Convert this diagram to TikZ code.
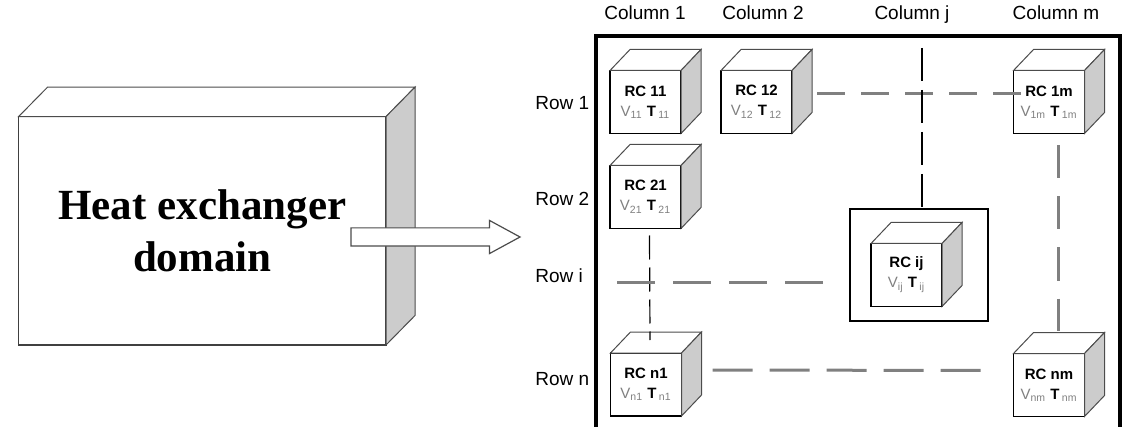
\documentclass[tikz,border=0pt]{standalone}
\usepackage{fontspec}
\setmainfont{Liberation Sans}
\newfontfamily\timesfont{Liberation Serif}
\usetikzlibrary{calc,shapes.arrows}
\tikzset{
  cubefront/.style={draw=black, line width=0.9pt, fill=white, minimum width=35.5pt, minimum height=31.5pt,
    inner sep=0pt, outer sep=0pt, align=center, font=\fontsize{7.5}{10}\selectfont},
  cubeedge/.style={draw=black!70, line width=0.5pt},
  gridlabel/.style={font=\fontsize{9.5}{11}\selectfont, inner sep=0pt},
  graydash/.style={draw=black!50, line width=1.5pt},
  blackdash/.style={draw=black, line width=1pt}
}
\newcommand{\cubesides}[3]{%
  \draw[cubeedge, fill=white] (#1.north west) -- ++(#2,#3) -- ($(#1.north east)+(#2,#3)$) -- (#1.north east) -- cycle;
  \draw[cubeedge, fill=gray!40] (#1.north east) -- ++(#2,#3) -- ($(#1.south east)+(#2,#3)$) -- (#1.south east) -- cycle;}
\newcommand{\vt}[1]{{\color{gray}V\textsubscript{#1}}\ \textbf{T}\,{\color{gray}\textsubscript{#1}}}
\begin{document}
\begin{tikzpicture}[x=0.5pt,y=-0.5pt]
  \useasboundingbox (0,0) rectangle (1134,427);
  \node[cubefront, draw=black!75, line width=0.75pt, minimum width=183.7pt, minimum height=114.2pt,
    font=\timesfont\bfseries\fontsize{21.5}{26}\selectfont] (domain) at (202.3,230.8) {Heat exchanger\\domain};
  \cubesides{domain}{29}{-29.5}
  \node[single arrow, draw=black!70, fill=white, line width=0.6pt, minimum height=84.5pt, inner xsep=0pt,
    inner ysep=4.25pt, outer sep=0pt, single arrow head extend=3.75pt, single arrow tip angle=57,
    anchor=tail] (flow) at (351,237) {};
  \draw[line width=2pt] (596,427) -- (596,36) -- (1120,36) -- (1120,427);
  \node[gridlabel, anchor=base] (col1) at (645,20) {Column 1};
  \node[gridlabel, anchor=base] (col2) at (763,20) {Column 2};
  \node[gridlabel, anchor=base] (colj) at (912,20) {Column j};
  \node[gridlabel, anchor=base] (colm) at (1056,20) {Column m};
  \node[gridlabel, anchor=west] (row1) at (535,103) {Row 1};
  \node[gridlabel, anchor=west] (row2) at (535,199) {Row 2};
  \node[gridlabel, anchor=west] (rowi) at (535,276) {Row i};
  \node[gridlabel, anchor=west] (rown) at (535,379) {Row n};
  \node[draw, line width=0.9pt, minimum width=69pt, minimum height=56pt, inner sep=0pt, outer sep=0pt] (frameij) at (919,265) {};
  \node[cubefront] (rc11) at (645.5,102) {\textbf{RC 11}\\\vt{11}};
  \node[cubefront] (rc12) at (756.5,102) {\textbf{RC 12}\\\vt{12}};
  \node[cubefront] (rc1m) at (1049,102) {\textbf{RC 1m}\\\vt{1m}};
  \node[cubefront] (rc21) at (645.5,197) {\textbf{RC 21}\\\vt{21}};
  \node[cubefront] (rcij) at (906.5,275) {\textbf{RC ij}\\\vt{ij}};
  \node[cubefront] (rcn1) at (646,384.5) {\textbf{RC n1}\\\vt{n1}};
  \node[cubefront] (rcnm) at (1049,385) {\textbf{RC nm}\\\vt{nm}};
  \foreach \c in {rc11,rc12,rc1m,rc21,rcij,rcn1,rcnm} {\cubesides{\c}{20}{-21}}
  \coordinate (coljtop) at (922,48);
  \coordinate (rowistart) at (617,282);
  \draw[graydash, dash pattern=on 14pt off 8pt] ($(rc12.east)+(25,-8)$) -- ($(rc1m.west)+(7,-8)$);
  \draw[blackdash, dash pattern=on 16.5pt off 4.5pt] (coljtop) -- (coljtop |- frameij.north);
  \draw[black, line width=0.6pt, dash pattern=on 12pt off 4pt] ($(rc21.south)+(4,7)$) -- ($(rcn1.north)+(4,-13)$);
  \draw[graydash, dash pattern=on 19pt off 9pt] (rowistart) -- ($(frameij.west |- rowistart)+(-19,0)$);
  \draw[graydash, dash pattern=on 16.5pt off 9pt] ($(rc1m.south)+(9,12)$) -- ($(rcnm.north)+(9,-23)$);
  \draw[graydash, dash pattern=on 20pt off 8.5pt] ($(rcn1.east)+(31,-14.5)$) -- ($(rcnm.west)+(-19,-14.5)$);
\end{tikzpicture}
\end{document}
